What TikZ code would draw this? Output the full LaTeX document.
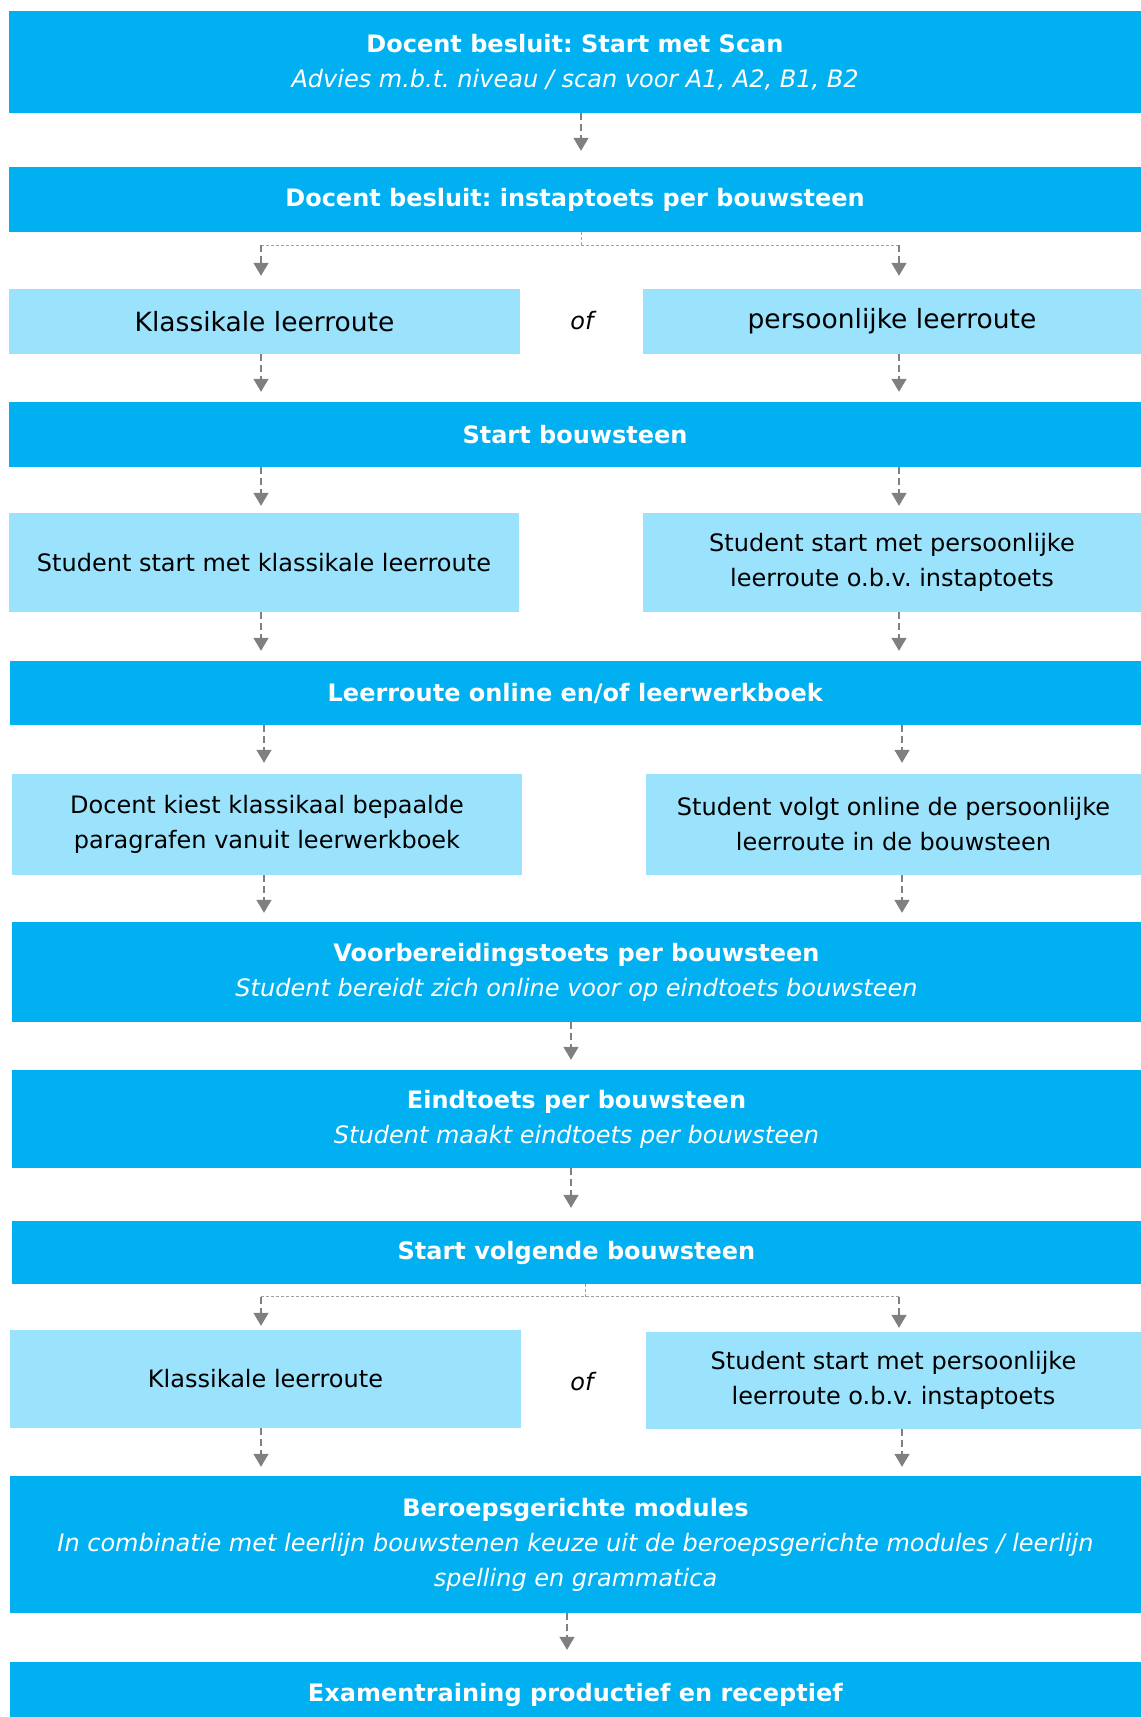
\documentclass[tikz,border=0pt]{standalone}
\usepackage{fontspec}
\setmainfont{DejaVu Sans}
\usetikzlibrary{arrows.meta}
\frenchspacing

\definecolor{donker}{RGB}{0,176,240}
\definecolor{licht}{RGB}{155,227,252}
\definecolor{grijs}{RGB}{128,128,128}
\definecolor{lichtgrijs}{RGB}{160,160,160}

\tikzset{
  blok/.style={fill=donker, text=white, inner sep=0pt, align=center,
    minimum width=1132pt, font=\fontsize{24}{35}\selectfont},
  halfblok/.style={fill=licht, text=black, inner sep=0pt, align=center,
    font=\fontsize{24}{35}\selectfont},
  pijl/.style={draw=grijs, line width=1.5pt, dash pattern=on 7pt off 4pt,
    -{Triangle[width=15pt,length=13pt]}, shorten >=10pt},
  tak/.style={draw=lichtgrijs, line width=1pt, dash pattern=on 3pt off 2pt},
}

\begin{document}
\begin{tikzpicture}[x=1pt,y=-1pt]
\useasboundingbox (0,0) rectangle (1141,1717);

% blokken
\node[blok, minimum height=102pt] (v1) at (575,62) {\textbf{Docent besluit: Start met Scan}\\\textit{Advies m.b.t. niveau / scan voor A1, A2, B1, B2}};
\node[blok, minimum height=65pt] (v2) at (575,199.5) {\textbf{Docent besluit: instaptoets per bouwsteen}};
\node[halfblok, minimum width=511pt, minimum height=65pt, font=\fontsize{26.5}{35}\selectfont] (v3) at (264.5,321.5) {Klassikale leerroute};
\node (v4) at (582,321) {\fontsize{24}{35}\selectfont\itshape of};
\node[halfblok, minimum width=498pt, minimum height=65pt, font=\fontsize{26.5}{35}\selectfont] (v5) at (892,321.5) {persoonlijke leerroute};
\node[blok, minimum height=65pt] (v6) at (575,434.5) {\textbf{Start bouwsteen}};
\node[halfblok, minimum width=510pt, minimum height=99pt] (v7) at (264,562.5) {Student start met klassikale leerroute};
\node[halfblok, minimum width=498pt, minimum height=99pt] (v8) at (892,562.5) {Student start met persoonlijke\\leerroute o.b.v. instaptoets};
\node[blok, minimum height=64pt, minimum width=1131pt] (v9) at (575.5,693) {\textbf{Leerroute online en/of leerwerkboek}};
\node[halfblok, minimum width=510pt, minimum height=101pt] (v10) at (267,824.5) {Docent kiest klassikaal bepaalde\\paragrafen vanuit leerwerkboek};
\node[halfblok, minimum width=495pt, minimum height=101pt] (v11) at (893.5,824.5) {Student volgt online de persoonlijke\\leerroute in de bouwsteen};
\node[blok, minimum height=100pt, minimum width=1129pt] (v12) at (576.5,972) {\textbf{Voorbereidingstoets per bouwsteen}\\\textit{Student bereidt zich online voor op eindtoets bouwsteen}};
\node[blok, minimum height=98pt, minimum width=1129pt] (v13) at (576.5,1119) {\textbf{Eindtoets per bouwsteen}\\\textit{Student maakt eindtoets per bouwsteen}};
\node[blok, minimum height=63pt, minimum width=1129pt] (v14) at (576.5,1252.5) {\textbf{Start volgende bouwsteen}};
\node[halfblok, minimum width=511pt, minimum height=98pt] (v15) at (265.5,1379) {Klassikale leerroute};
\node (v16) at (582,1382) {\fontsize{24}{35}\selectfont\itshape of};
\node[halfblok, minimum width=495pt, minimum height=97pt] (v17) at (893.5,1380.5) {Student start met persoonlijke\\leerroute o.b.v. instaptoets};
\node[blok, minimum height=137pt, minimum width=1131pt] (v18) at (575.5,1544.5) {\textbf{Beroepsgerichte modules}\\\textit{In combinatie met leerlijn bouwstenen keuze uit de beroepsgerichte modules / leerlijn}\\\textit{spelling en grammatica}};
\node[blok, minimum height=66pt, minimum width=1131pt] (v19) at (575.5,1695) {\textbf{Examentraining productief en receptief}};

% kolommen en splitsingen
\coordinate (kl) at (261,0);
\coordinate (kr) at (899,0);
\coordinate (kl2) at (264,0);
\coordinate (kr2) at (902,0);
\coordinate (m) at (571,0);
\coordinate (m2) at (567,0);
\coordinate (s1) at (581,245);
\coordinate (s2) at (585,1296.5);
\draw [tak] (v2.south -| s1) -- (s1);
\draw [tak] (s1 -| kl) -- (s1 -| kr);
\draw [tak] (v14.south -| s2) -- (s2);
\draw [tak] (s2 -| kl) -- (s2 -| kr);

% pijlen
\draw [pijl, shorten >=16pt] (v1.south -| s1) -- (v2.north -| s1);
\draw [pijl, shorten >=13pt] (s1 -| kl) -- (v3.north -| kl);
\draw [pijl, shorten >=13pt] (s1 -| kr) -- (v5.north -| kr);
\draw [pijl] (v3.south -| kl) -- (v6.north -| kl);
\draw [pijl] (v5.south -| kr) -- (v6.north -| kr);
\draw [pijl, shorten >=7pt] (v6.south -| kl) -- (v7.north -| kl);
\draw [pijl, shorten >=7pt] (v6.south -| kr) -- (v8.north -| kr);
\draw [pijl] (v7.south -| kl) -- (v9.north -| kl);
\draw [pijl] (v8.south -| kr) -- (v9.north -| kr);
\draw [pijl, shorten >=11pt] (v9.south -| kl2) -- (v10.north -| kl2);
\draw [pijl, shorten >=11pt] (v9.south -| kr2) -- (v11.north -| kr2);
\draw [pijl, shorten >=9pt] (v10.south -| kl2) -- (v12.north -| kl2);
\draw [pijl, shorten >=9pt] (v11.south -| kr2) -- (v12.north -| kr2);
\draw [pijl] (v12.south -| m) -- (v13.north -| m);
\draw [pijl, shorten >=13pt] (v13.south -| m) -- (v14.north -| m);
\draw [pijl, shorten >=4pt] (s2 -| kl) -- (v15.north -| kl);
\draw [pijl, shorten >=4pt] (s2 -| kr) -- (v17.north -| kr);
\draw [pijl, shorten >=9pt] (v15.south -| kl) -- (v18.north -| kl);
\draw [pijl, shorten >=9pt] (v17.south -| kr2) -- (v18.north -| kr2);
\draw [pijl, shorten >=12pt] (v18.south -| m2) -- (v19.north -| m2);
\end{tikzpicture}
\end{document}
